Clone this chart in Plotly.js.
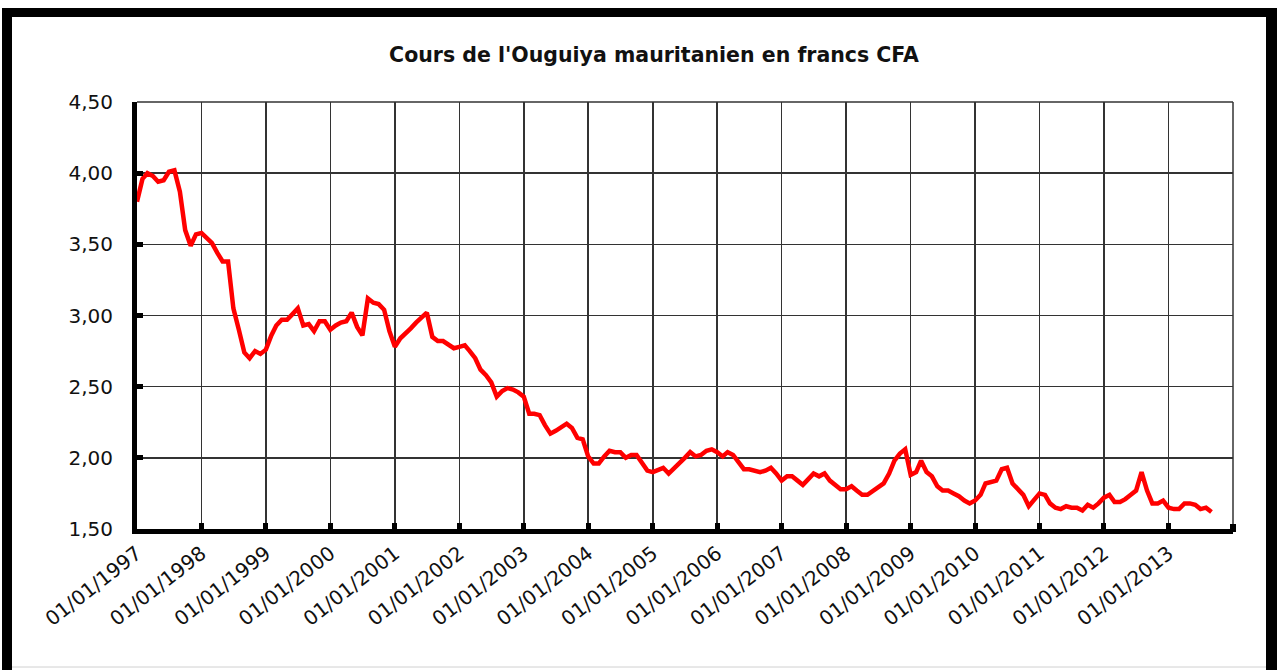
<!DOCTYPE html>
<html>
<head>
<meta charset="utf-8">
<script src="https://cdn.plot.ly/plotly-3.0.1.min.js"></script>
<style>
  html, body { margin: 0; padding: 0; background: #ffffff; }
  #chart { width: 1277px; height: 670px; }
</style>
</head>
<body>
<div id="chart"></div>
<script>
// Monthly values (first of each month)
const v1997 = [3.80, 3.96, 4.00, 3.98, 3.94, 3.95, 4.01, 4.02, 3.87, 3.60, 3.49, 3.57];
const v1998 = [3.58, 3.54, 3.51, 3.44, 3.38, 3.38, 3.05, 2.90, 2.74, 2.70, 2.75, 2.73];
const v1999 = [2.76, 2.86, 2.93, 2.97, 2.97, 3.01, 3.05, 2.93, 2.94, 2.89, 2.96, 2.96];
const v2000 = [2.90, 2.93, 2.95, 2.96, 3.02, 2.92, 2.86, 3.12, 3.09, 3.08, 3.04, 2.89];
const v2001 = [2.78, 2.84, 2.87, 2.91, 2.95, 2.99, 3.02, 2.85, 2.82, 2.82, 2.79, 2.77];
const v2002 = [2.78, 2.79, 2.75, 2.70, 2.62, 2.58, 2.53, 2.43, 2.47, 2.49, 2.48, 2.46];
const v2003 = [2.43, 2.31, 2.31, 2.30, 2.23, 2.17, 2.19, 2.22, 2.24, 2.21, 2.14, 2.13];
const v2004 = [2.01, 1.96, 1.96, 2.01, 2.05, 2.04, 2.04, 2.00, 2.02, 2.02, 1.97, 1.91];
const v2005 = [1.90, 1.92, 1.93, 1.89, 1.93, 1.96, 2.00, 2.04, 2.01, 2.02, 2.05, 2.06];
const v2006 = [2.04, 2.01, 2.04, 2.02, 1.97, 1.92, 1.92, 1.91, 1.90, 1.91, 1.93, 1.89];
const v2007 = [1.84, 1.87, 1.87, 1.84, 1.81, 1.85, 1.89, 1.87, 1.89, 1.84, 1.81, 1.78];
const v2008 = [1.78, 1.80, 1.77, 1.74, 1.74, 1.77, 1.80, 1.82, 1.89, 1.98, 2.03, 2.06];
const v2009 = [1.88, 1.90, 1.98, 1.90, 1.87, 1.80, 1.77, 1.77, 1.75, 1.73, 1.70, 1.68];
const v2010 = [1.70, 1.74, 1.82, 1.83, 1.84, 1.92, 1.93, 1.82, 1.78, 1.74, 1.66, 1.71];
const v2011 = [1.75, 1.74, 1.68, 1.65, 1.64, 1.66, 1.65, 1.65, 1.63, 1.67, 1.65, 1.68];
const v2012 = [1.72, 1.74, 1.69, 1.69, 1.71, 1.74, 1.77, 1.90, 1.77, 1.68, 1.68, 1.70];
const v2013 = [1.65, 1.64, 1.64, 1.68, 1.68, 1.67, 1.64, 1.65, 1.62];

const years = [1997, 1998, 1999, 2000, 2001, 2002, 2003, 2004, 2005,
               2006, 2007, 2008, 2009, 2010, 2011, 2012, 2013];
const yearValues = [v1997, v1998, v1999, v2000, v2001, v2002, v2003, v2004, v2005,
                    v2006, v2007, v2008, v2009, v2010, v2011, v2012, v2013];
const yTicks = [1.5, 2.0, 2.5, 3.0, 3.5, 4.0, 4.5];
const chartTitle = "Cours de l'Ouguiya mauritanien en francs CFA";

// Build the x/y table from the named arrays
const xs = [], ys = [];
years.forEach((yr, i) => {
  yearValues[i].forEach((v, m) => {
    xs.push(yr + '-' + String(m + 1).padStart(2, '0') + '-01');
    ys.push(v);
  });
});
const yearTickVals = years.map(y => y + '-01-01');

// pixel -> paper helpers for the decorative frame
const W = 1277, H = 670, ML = 137, MR = 44, MT = 102, MB = 141;
const PW = W - ML - MR, PH = H - MT - MB;
const px = p => (p - ML) / PW;
const py = p => (H - MB - p) / PH;

const gridColor = '#333333';
const fontFamily = 'DejaVu Sans, Liberation Sans, sans-serif';

const trace = {
  type: 'scatter',
  mode: 'lines',
  x: xs,
  y: ys,
  line: { color: '#ff0000', width: 4.5 },
  hoverinfo: 'x+y'
};

const layout = {
  width: W,
  height: H,
  autosize: false,
  margin: { l: ML, r: MR, t: MT, b: MB, pad: 0 },
  paper_bgcolor: '#ffffff',
  plot_bgcolor: '#ffffff',
  separators: ', ',
  showlegend: false,
  title: {
    text: chartTitle,
    font: { family: fontFamily, size: 20.5, weight: 'bold', color: '#111111' },
    x: 654 / W,
    xref: 'container',
    xanchor: 'center',
    y: 1 - 55 / H,
    yref: 'container',
    yanchor: 'middle'
  },
  xaxis: {
    type: 'date',
    range: ['1997-01-01', '2014-01-01'],
    tickmode: 'array',
    tickvals: yearTickVals,
    tickformat: '%d/%m/%Y',
    tickangle: -38,
    tickfont: { family: fontFamily, size: 20, color: '#111111' },
    showgrid: true,
    gridcolor: gridColor,
    gridwidth: 1.5,
    zeroline: false,
    showline: true,
    linecolor: '#000000',
    linewidth: 5,
    ticks: 'inside',
    ticklen: 6,
    tickwidth: 5,
    tickcolor: '#000000',
    fixedrange: true
  },
  yaxis: {
    range: [1.5, 4.5],
    tickmode: 'array',
    tickvals: yTicks,
    tickformat: '.2f',
    tickfont: { family: fontFamily, size: 20, color: '#111111' },
    showgrid: true,
    gridcolor: gridColor,
    gridwidth: 1.5,
    zeroline: false,
    showline: true,
    linecolor: '#000000',
    linewidth: 5,
    ticks: 'inside',
    ticklen: 6,
    tickwidth: 5,
    tickcolor: '#000000',
    ticklabelstandoff: 15,
    fixedrange: true
  },
  shapes: [
    // right edge grid line
    { type: 'line', xref: 'paper', yref: 'paper', x0: 1, x1: 1, y0: 0, y1: 1,
      line: { color: gridColor, width: 1.5 } },
    // top edge grid line
    { type: 'line', xref: 'paper', yref: 'paper', x0: 0, x1: 1, y0: 1, y1: 1,
      line: { color: gridColor, width: 1.5 } },
    // tick square at right end of x axis
    { type: 'rect', xref: 'paper', yref: 'paper', x0: px(1230), x1: px(1236), y0: py(532), y1: py(524),
      fillcolor: '#000000', line: { width: 0 } },
    // frame: top band
    { type: 'rect', xref: 'paper', yref: 'paper', x0: px(2), x1: px(1277), y0: py(17), y1: py(8),
      fillcolor: '#000000', line: { width: 0 } },
    // frame: left band
    { type: 'rect', xref: 'paper', yref: 'paper', x0: px(2), x1: px(12), y0: py(670), y1: py(8),
      fillcolor: '#000000', line: { width: 0 } },
    // frame: right band
    { type: 'rect', xref: 'paper', yref: 'paper', x0: px(1266), x1: px(1277), y0: py(670), y1: py(8),
      fillcolor: '#000000', line: { width: 0 } },
    // faint bottom line
    { type: 'line', xref: 'paper', yref: 'paper', x0: px(12), x1: px(1266), y0: py(667), y1: py(667),
      line: { color: '#d0d0d0', width: 1 } }
  ]
};

Plotly.newPlot('chart', [trace], layout, { displayModeBar: false, staticPlot: true });
</script>
</body>
</html>
